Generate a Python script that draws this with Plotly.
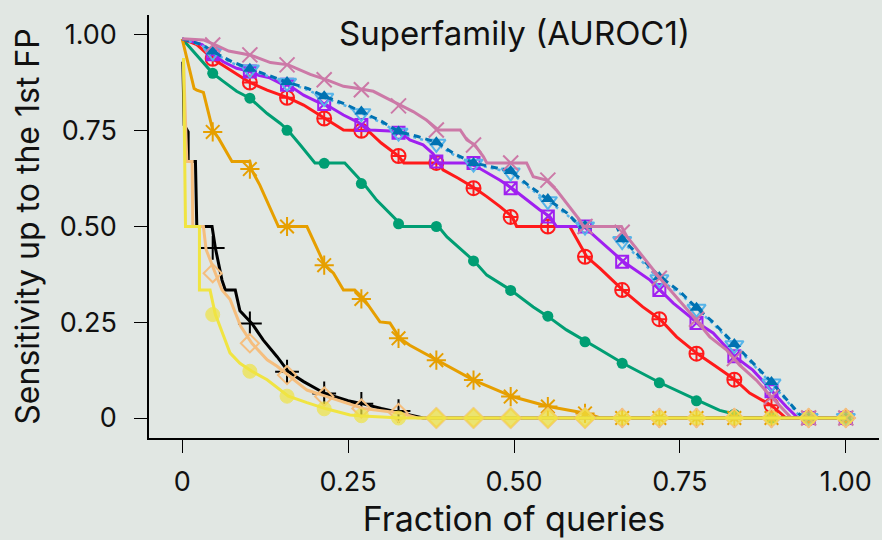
import plotly.graph_objects as go

# x positions of the plotting symbols (shared by every method)
mark_x = [0.046, 0.102, 0.158, 0.214, 0.270, 0.326, 0.383, 0.439, 0.495,
          0.551, 0.607, 0.663, 0.719, 0.775, 0.832, 0.888, 0.944, 1.0]

# ---- curve vertices and symbol heights, one set per method ----
pink_x = [0.0, 0.032, 0.05, 0.07, 0.102, 0.133, 0.16, 0.193, 0.218, 0.243, 0.263,
          0.288, 0.308, 0.328, 0.348, 0.368, 0.386, 0.419, 0.429, 0.441, 0.454,
          0.459, 0.519, 0.529, 0.549, 0.564, 0.579, 0.599, 0.604, 0.662, 0.67,
          0.69, 0.72, 0.74, 0.77, 0.795, 0.82, 0.84, 0.865, 0.888, 0.918, 1.0]
pink_y = [0.99, 0.987, 0.974, 0.958, 0.948, 0.928, 0.922, 0.897, 0.883, 0.866, 0.861,
          0.853, 0.835, 0.817, 0.8, 0.778, 0.752, 0.752, 0.726, 0.713, 0.682,
          0.666, 0.666, 0.63, 0.621, 0.595, 0.561, 0.517, 0.5, 0.5, 0.474,
          0.43, 0.365, 0.325, 0.265, 0.212, 0.178, 0.138, 0.099, 0.055, 0.0, 0.0]
pink_marks = [0.974, 0.948, 0.922, 0.883, 0.857, 0.815, 0.752, 0.713, 0.666,
              0.621, 0.5, 0.485, 0.365, 0.258, 0.155, 0.055, 0.0, 0.0]

blue_x = [0.0, 0.03, 0.046, 0.075, 0.102, 0.13, 0.158, 0.19, 0.214, 0.245, 0.27,
          0.3, 0.326, 0.355, 0.383, 0.41, 0.439, 0.467, 0.495, 0.52, 0.551, 0.58,
          0.6, 0.655, 0.663, 0.69, 0.719, 0.75, 0.775, 0.8, 0.832, 0.86, 0.888,
          0.91, 0.935, 1.0]
blue_y = [0.99, 0.975, 0.957, 0.93, 0.912, 0.895, 0.877, 0.86, 0.84, 0.82, 0.8,
          0.775, 0.748, 0.735, 0.72, 0.69, 0.666, 0.655, 0.645, 0.61, 0.572, 0.535,
          0.5, 0.5, 0.468, 0.42, 0.37, 0.33, 0.288, 0.25, 0.193, 0.145, 0.094,
          0.05, 0.0, 0.0]
blue_marks = [0.957, 0.912, 0.877, 0.84, 0.8, 0.748, 0.72, 0.666, 0.645,
              0.572, 0.502, 0.467, 0.368, 0.288, 0.193, 0.094, 0.0, 0.0]

skyblue_x = [0.0, 0.03, 0.046, 0.075, 0.102, 0.13, 0.158, 0.19, 0.214, 0.245, 0.27,
             0.3, 0.326, 0.355, 0.383, 0.41, 0.439, 0.467, 0.495, 0.52, 0.551, 0.58,
             0.6, 0.655, 0.663, 0.69, 0.719, 0.75, 0.775, 0.8, 0.832, 0.86, 0.888,
             0.91, 0.933, 1.0]
skyblue_y = [0.99, 0.972, 0.954, 0.927, 0.909, 0.892, 0.874, 0.856, 0.836, 0.816, 0.796,
             0.771, 0.745, 0.731, 0.716, 0.686, 0.664, 0.652, 0.641, 0.605, 0.566, 0.53,
             0.5, 0.5, 0.462, 0.414, 0.362, 0.325, 0.285, 0.246, 0.19, 0.141, 0.09,
             0.047, 0.0, 0.0]
skyblue_marks = [0.955, 0.91, 0.875, 0.836, 0.796, 0.745, 0.716, 0.664, 0.641,
                 0.566, 0.5, 0.462, 0.362, 0.285, 0.19, 0.09, 0.0, 0.0]

purple_x = [0.0, 0.03, 0.046, 0.062, 0.082, 0.102, 0.115, 0.132, 0.148, 0.16, 0.183,
            0.203, 0.218, 0.243, 0.263, 0.283, 0.328, 0.343, 0.363, 0.378, 0.386,
            0.43, 0.444, 0.479, 0.497, 0.519, 0.539, 0.554, 0.564, 0.605, 0.619,
            0.665, 0.705, 0.72, 0.74, 0.777, 0.8, 0.833, 0.86, 0.888, 0.91, 0.928, 1.0]
purple_y = [0.99, 0.975, 0.95, 0.93, 0.913, 0.905, 0.895, 0.888, 0.874, 0.87, 0.843,
            0.826, 0.817, 0.791, 0.774, 0.752, 0.748, 0.726, 0.713, 0.69, 0.666,
            0.666, 0.656, 0.621, 0.6, 0.569, 0.543, 0.526, 0.5, 0.5, 0.478,
            0.408, 0.36, 0.334, 0.3, 0.248, 0.222, 0.16, 0.125, 0.072, 0.03, 0.0, 0.0]
purple_marks = [0.95, 0.905, 0.87, 0.82, 0.765, 0.745, 0.67, 0.666, 0.6,
                0.526, 0.5, 0.408, 0.334, 0.248, 0.161, 0.07, 0.0, 0.0]

red_x = [0.0, 0.022, 0.046, 0.077, 0.102, 0.128, 0.16, 0.183, 0.203, 0.215, 0.243,
         0.28, 0.3, 0.326, 0.334, 0.388, 0.393, 0.416, 0.441, 0.459, 0.479, 0.497,
         0.504, 0.584, 0.61, 0.63, 0.664, 0.694, 0.72, 0.745, 0.777, 0.805, 0.833,
         0.855, 0.888, 0.91, 1.0]
red_y = [0.99, 0.975, 0.938, 0.904, 0.876, 0.856, 0.836, 0.817, 0.795, 0.782, 0.752,
         0.75, 0.718, 0.684, 0.666, 0.666, 0.648, 0.626, 0.6, 0.578, 0.552, 0.526,
         0.5, 0.5, 0.42, 0.39, 0.334, 0.29, 0.258, 0.212, 0.167, 0.134, 0.1,
         0.065, 0.033, 0.0, 0.0]
red_marks = [0.938, 0.876, 0.836, 0.782, 0.75, 0.684, 0.666, 0.6, 0.525,
             0.5, 0.421, 0.334, 0.258, 0.168, 0.1, 0.033, 0.0, 0.0]

green_x = [0.0, 0.03, 0.046, 0.062, 0.082, 0.102, 0.128, 0.148, 0.16, 0.178, 0.2,
           0.245, 0.273, 0.293, 0.328, 0.33, 0.386, 0.399, 0.441, 0.459, 0.496,
           0.529, 0.552, 0.579, 0.61, 0.63, 0.664, 0.72, 0.777, 0.81, 0.833, 0.84, 1.0]
green_y = [0.99, 0.93, 0.9, 0.879, 0.853, 0.835, 0.795, 0.769, 0.75, 0.713, 0.666,
           0.666, 0.613, 0.569, 0.508, 0.5, 0.5, 0.473, 0.408, 0.373, 0.333,
           0.29, 0.264, 0.23, 0.197, 0.178, 0.143, 0.092, 0.046, 0.02, 0.01, 0.0, 0.0]
green_marks = [0.9, 0.835, 0.751, 0.665, 0.612, 0.507, 0.5, 0.41, 0.333,
               0.266, 0.199, 0.143, 0.092, 0.045, 0.01, 0.0, 0.0, 0.0]

orange_x = [0.0, 0.018, 0.022, 0.032, 0.046, 0.055, 0.075, 0.102, 0.105, 0.117, 0.145,
            0.188, 0.215, 0.228, 0.243, 0.26, 0.273, 0.298, 0.313, 0.328, 0.343,
            0.384, 0.439, 0.497, 0.552, 0.61, 0.63, 1.0]
orange_y = [0.99, 0.86, 0.856, 0.85, 0.752, 0.73, 0.67, 0.67, 0.647, 0.608, 0.5,
            0.5, 0.399, 0.378, 0.334, 0.334, 0.313, 0.251, 0.248, 0.208, 0.19,
            0.151, 0.099, 0.056, 0.03, 0.012, 0.0, 0.0]
orange_marks = [0.747, 0.65, 0.5, 0.399, 0.311, 0.208, 0.151, 0.099, 0.056,
                0.03, 0.012, 0.0, 0.0, 0.0, 0.0, 0.0, 0.0, 0.0]

black_x = [0.001, 0.003, 0.009, 0.009, 0.02, 0.022, 0.045, 0.05, 0.06, 0.065, 0.08,
           0.087, 0.105, 0.122, 0.143, 0.16, 0.183, 0.215, 0.25, 0.273, 0.3, 0.328,
           0.363, 1.0]
black_y = [0.93, 0.765, 0.747, 0.67, 0.67, 0.5, 0.5, 0.444, 0.36, 0.334, 0.334,
           0.28, 0.247, 0.204, 0.16, 0.121, 0.095, 0.064, 0.045, 0.037, 0.025, 0.013,
           0.0, 0.0]
# symbols only where the curve is still above zero
black_marks = [0.444, 0.247, 0.121, 0.064, 0.037, 0.018, None, None, None,
               None, None, None, None, None, None, None, None, None]

tan_x = [0.002, 0.007, 0.015, 0.016, 0.032, 0.036, 0.05, 0.06, 0.072, 0.088, 0.105,
         0.128, 0.143, 0.16, 0.188, 0.218, 0.248, 0.273, 0.328, 0.355, 1.0]
tan_y = [0.93, 0.67, 0.67, 0.5, 0.5, 0.44, 0.378, 0.334, 0.31, 0.24, 0.195,
         0.152, 0.135, 0.112, 0.073, 0.056, 0.039, 0.025, 0.013, 0.0, 0.0]
tan_marks = [0.378, 0.195, 0.112, 0.056, 0.025, 0.013, 0.0, 0.0, 0.0,
             0.0, 0.0, 0.0, 0.0, 0.0, 0.0, 0.0, 0.0, 0.0]

yellow_x = [0.002, 0.005, 0.026, 0.026, 0.042, 0.05, 0.055, 0.072, 0.087, 0.105,
            0.128, 0.16, 0.188, 0.217, 0.253, 0.272, 0.33, 1.0]
yellow_y = [0.94, 0.5, 0.5, 0.334, 0.334, 0.27, 0.248, 0.17, 0.143, 0.122,
            0.1, 0.057, 0.04, 0.024, 0.008, 0.005, 0.0, 0.0]
yellow_marks = [0.27, 0.122, 0.057, 0.024, 0.006, 0.0, 0.0, 0.0, 0.0,
                0.0, 0.0, 0.0, 0.0, 0.0, 0.0, 0.0, 0.0, 0.0]
yellow_symbols = ["circle"] * 6 + ["diamond"] * 5 + ["circle"] * 7

tick_vals = [0, 0.25, 0.5, 0.75, 1.0]
tick_text = ["0", "0.25", "0.50", "0.75", "1.00"]

BG = "#E1E7E3"
FONT = "Inter"
INK = "#111111"

fig = go.Figure()


def add_method(xs, ys, marks, color, symbol, size, dash="solid", width=3,
               fill=None, mline=2):
    fig.add_trace(go.Scatter(x=xs, y=ys, mode="lines",
                             line=dict(color=color, width=width, dash=dash),
                             hoverinfo="skip", showlegend=False))
    fig.add_trace(go.Scatter(
        x=mark_x, y=marks, mode="markers", showlegend=False,
        marker=dict(symbol=symbol, size=size,
                    color=fill if fill is not None else color,
                    line=dict(color=color, width=mline))))


add_method(green_x, green_y, green_marks, "#009E73", "circle", 11, mline=0)
add_method(orange_x, orange_y, orange_marks, "#E69F00", "asterisk-open", 16)
add_method(red_x, red_y, red_marks, "#FF1A1A", "circle-cross-open", 14)
add_method(purple_x, purple_y, purple_marks, "#A020F0", "square-x-open", 12)
add_method(skyblue_x, skyblue_y, skyblue_marks, "#56B4E9", "triangle-down-open", 16,
           dash="3px,4px", width=2.5)
add_method(blue_x, blue_y, blue_marks, "#0072B2", "triangle-up", 12,
           dash="7px,5px", width=3, mline=0)
add_method(pink_x, pink_y, pink_marks, "#CC79A7", "x-thin-open", 15)
add_method(black_x, black_y, black_marks, "#000000", "cross-thin-open", 17)
add_method(tan_x, tan_y, tan_marks, "#F5BE7E", "diamond-open", 14)

# yellow curve, drawn last so it sits over the other symbols on the baseline
fig.add_trace(go.Scatter(x=yellow_x, y=yellow_y, mode="lines",
                         line=dict(color="#F0E442", width=3),
                         hoverinfo="skip", showlegend=False))
fig.add_trace(go.Scatter(
    x=mark_x, y=yellow_marks, mode="markers", showlegend=False,
    marker=dict(symbol=yellow_symbols, size=[14] * 6 + [17] * 5 + [14] * 7,
                color="#F0E442",
                line=dict(color=["#F0E442"] * 6 + ["#F5BE7E"] * 5 + ["#F0E442"] * 7,
                          width=1))))

axis_common = dict(
    tickvals=tick_vals, ticktext=tick_text, ticks="outside", ticklen=13,
    tickwidth=1.3, tickcolor="#000000", showline=True, linecolor="#000000",
    linewidth=1.5, showgrid=False, zeroline=False,
    tickfont=dict(family=FONT, size=27, color=INK),
)

fig.update_layout(
    width=882, height=540,
    paper_bgcolor=BG, plot_bgcolor=BG,
    margin=dict(l=149, r=3, t=15, b=102),
    xaxis=dict(range=[-0.05, 1.05], ticklabelstandoff=6, **axis_common,
               title=dict(text="Fraction of queries", standoff=2,
                          font=dict(family=FONT, size=34, color=INK))),
    yaxis=dict(range=[-0.0522, 1.0522], ticklabelstandoff=12, **axis_common,
               title=dict(text="Sensitivity up to the 1st FP", standoff=10,
                          font=dict(family=FONT, size=32, color=INK))),
    annotations=[dict(text="Superfamily (AUROC1)", x=0.5, xref="x",
                      y=0.957, yref="paper", yanchor="middle", showarrow=False,
                      font=dict(family=FONT, size=33, color=INK))],
)

fig.write_html("out.html")
